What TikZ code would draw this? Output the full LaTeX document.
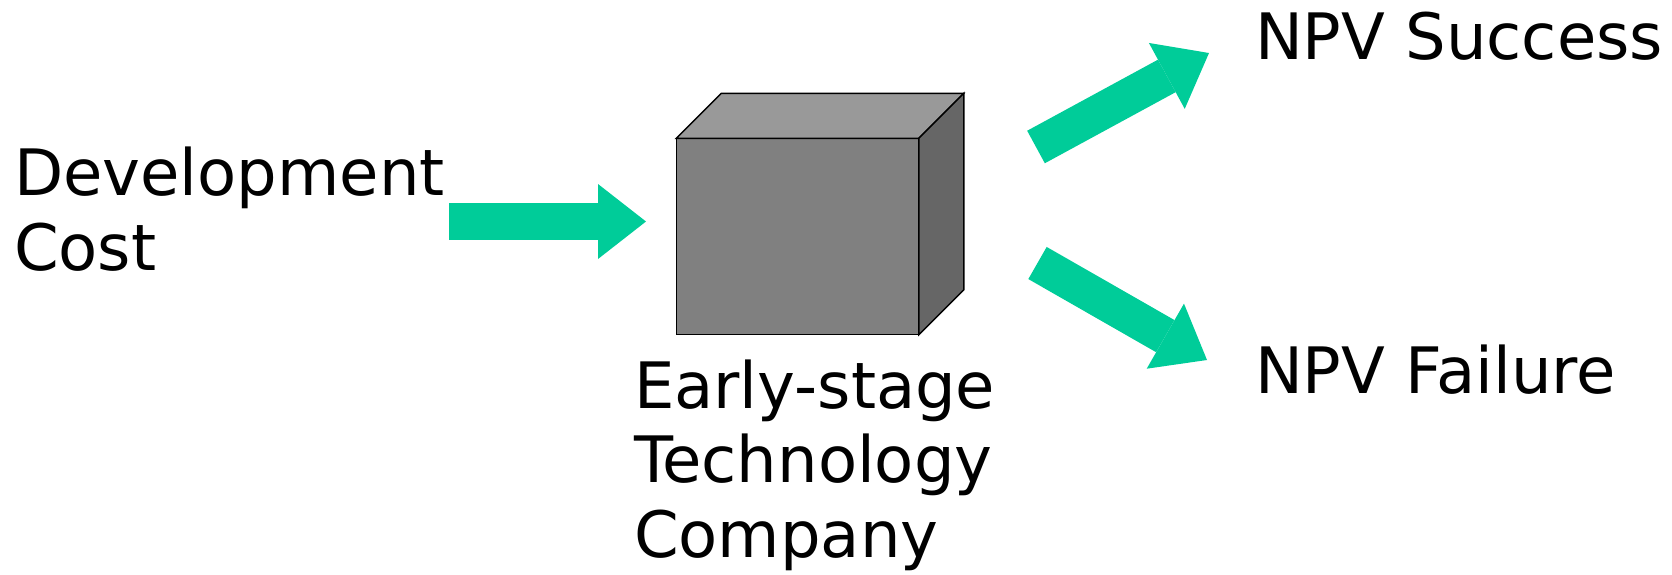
\documentclass[tikz,border=0pt]{standalone}
\usepackage{fontspec}
\setmainfont{DejaVu Sans}
\usepackage{tikz}
\usetikzlibrary{arrows.meta}

\definecolor{flowgreen}{HTML}{00CC99}
\definecolor{cubefront}{HTML}{808080}
\definecolor{cubetop}{HTML}{999999}
\definecolor{cubeside}{HTML}{666666}

\begin{document}
\begin{tikzpicture}[x=0.5pt, y=-0.5pt,
  font=\fontsize{32}{37.1}\selectfont,
  txt/.style={anchor=base west, align=left, inner sep=0pt, outer sep=0pt},
  face/.style={draw=black, line width=0.7pt, line join=miter},
  flow/.style={draw=flowgreen, line width=18.5pt,
    -{Triangle[width=37.5pt, length=24pt, line width=0pt]}}]
\useasboundingbox (0,0) rectangle (1672,574);

%nodes (base = last line)
\node (cost)    [txt] at (14,270)   {Development\\Cost};
\node (box)     [face, fill=cubefront, inner sep=0pt, outer sep=0pt,
                 minimum width=121.3pt, minimum height=98.2pt] at (797.5,236.5) {};
\node (company) [txt] at (634,557)  {Early-stage\\Technology\\Company};
\node (success) [txt] at (1255,59)  {NPV Success};
\node (failure) [txt] at (1255,393) {NPV Failure};

%cube faces
\draw[face, fill=cubetop]  (box.north west) -- ++(45,-45) -- ++(242.6,0) -- (box.north east) -- cycle;
\draw[face, fill=cubeside] (box.north east) -- ++(45,-45) -- ++(0,196.4) -- (box.south east) -- cycle;

%arrow ends
\coordinate (costOut) at (449,221.5);
\coordinate (boxIn)   at (646,221.5);
\coordinate (upTail)  at (1036,147);
\coordinate (upTip)   at (1209,53);
\coordinate (dnTail)  at (1037.5,263);
\coordinate (dnTip)   at (1207,360);

%links
\draw[flow] (costOut) -- (boxIn);
\draw[flow] (upTail) -- (upTip);
\draw[flow] (dnTail) -- (dnTip);
\end{tikzpicture}
\end{document}
